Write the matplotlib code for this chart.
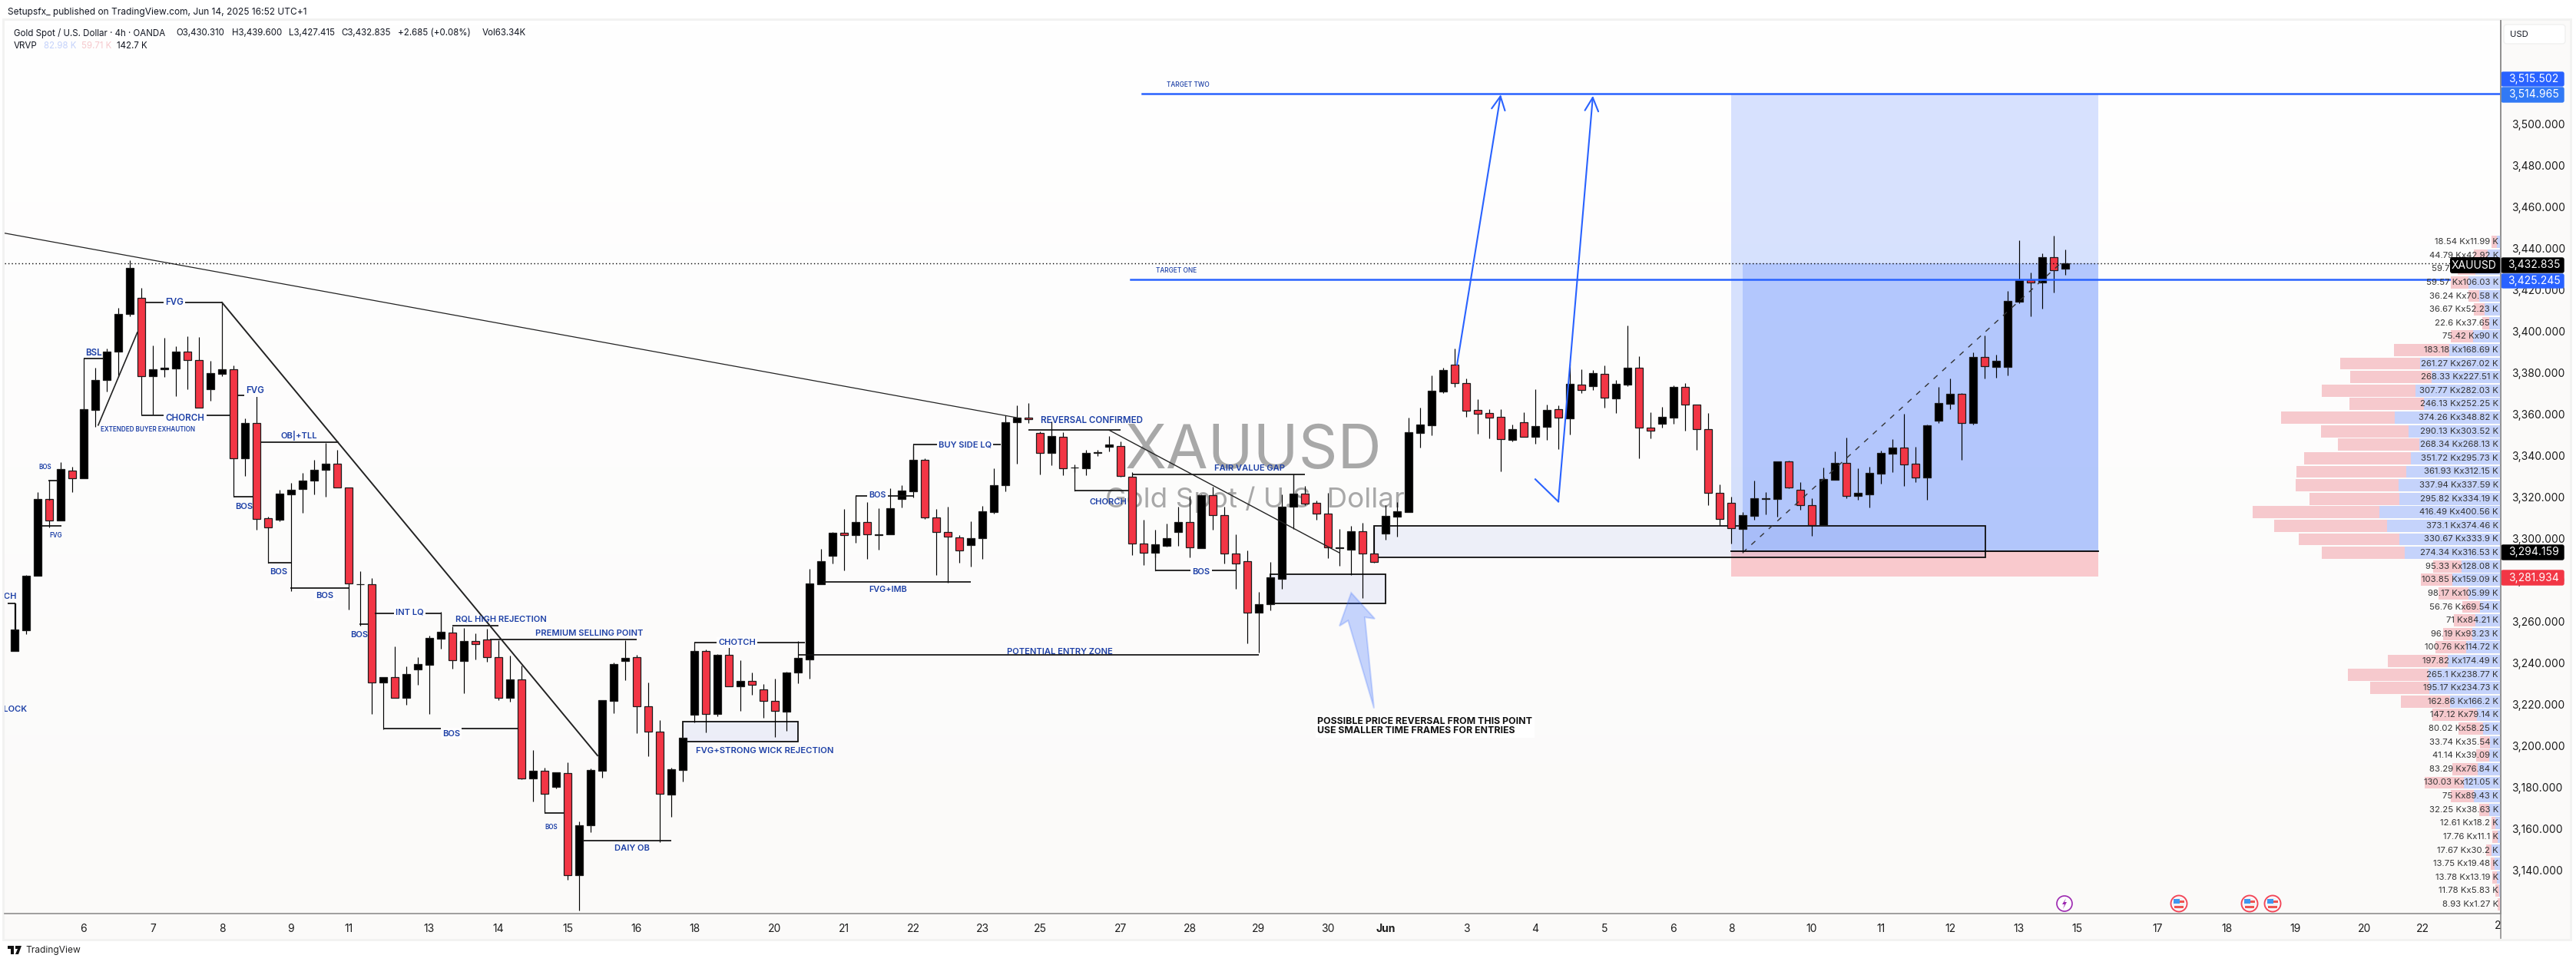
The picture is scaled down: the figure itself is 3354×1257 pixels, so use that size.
import matplotlib
matplotlib.use("Agg")
import matplotlib.pyplot as plt
import numpy as np
from matplotlib.patches import Rectangle, Polygon, Circle, FancyBboxPatch

plt.rcParams['font.family'] = ['Inter', 'DejaVu Sans']

W, H = 3355, 1257
BLUE = '#2962ff'
RED = '#f23645'
INK = '#1c3fa6'

opens = [
 3245.8,3256.0,3282.1,3319.3,3308.9,3332.9,3329.1,3362.4,3376.5,3390.3,
 3408.4,3416.2,3378.7,3381.7,3382.4,3390.3,3386.2,3372.2,3379.6,3381.9,
 3338.8,3355.8,3310.0,3309.3,3321.4,3324.1,3328.0,3333.2,3336.3,3324.8,
 3278.0,3278.3,3230.9,3233.3,3223.4,3237.2,3239.2,3251.7,3254.9,3241.1,
 3250.6,3251.3,3243.1,3223.4,3232.2,3184.4,3188.0,3180.5,3187.1,3137.9,
 3161.9,3188.2,3222.0,3241.1,3242.9,3219.1,3206.9,3176.8,3188.7,3215.3,
 3245.8,3215.7,3244.0,3228.9,3231.4,3227.3,3222.0,3216.8,3235.4,3242.0,
 3278.1,3292.0,3302.9,3301.7,3308.0,3302.0,3302.4,3319.1,3322.9,3338.0,
 3310.5,3303.4,3300.9,3297.0,3300.2,3312.9,3326.1,3356.4,3358.5,3351.0,
 3341.6,3349.4,3334.3,3333.9,3341.4,3344.6,3344.7,3330.1,3297.9,3293.2,
 3296.8,3303.4,3308.0,3295.7,3321.0,3311.6,3292.9,3289.1,3264.3,3268.7,
 3280.9,3315.7,3321.7,3317.3,3312.1,3295.5,3294.9,3303.6,3292.8,3302.7,
 3310.9,3313.1,3351.2,3354.9,3371.2,3383.9,3375.1,3362.1,3360.6,3358.8,
 3347.8,3356.2,3349.4,3354.2,3362.5,3358.3,3374.3,3373.8,3379.5,3367.9,
 3374.6,3382.5,3353.6,3355.7,3358.6,3373.2,3364.7,3352.8,3322.1,3317.3,
 3304.9,3311.2,3319.3,3319.4,3337.3,3323.6,3316.2,3306.8,3328.5,3336.5,
 3320.7,3321.5,3331.5,3341.1,3344.0,3336.2,3329.7,3357.2,3365.2,3369.9,
 3355.9,3387.7,3383.0,3383.0,3414.6,3424.7,3423.8,3435.8,3430.31]
closes = [
 3256.3,3282.1,3319.3,3308.9,3333.6,3329.1,3362.6,3376.7,3390.5,3408.4,
 3430.7,3378.7,3381.9,3382.6,3390.3,3386.2,3363.5,3380.1,3381.9,3338.8,
 3355.8,3309.8,3305.5,3321.8,3323.8,3328.2,3333.4,3336.3,3324.8,3278.7,
 3278.3,3230.9,3233.3,3223.4,3234.7,3239.7,3252.2,3255.1,3241.3,3250.6,
 3249.2,3243.1,3223.4,3232.2,3184.4,3188.0,3176.9,3187.3,3137.9,3161.9,
 3188.5,3222.2,3239.7,3242.6,3219.1,3206.9,3176.9,3188.9,3204.2,3245.8,
 3215.4,3244.1,3228.8,3231.4,3229.8,3222.0,3216.9,3235.5,3242.7,3278.5,
 3289.1,3302.9,3301.7,3308.0,3302.1,3302.4,3314.9,3323.2,3338.0,3310.5,
 3303.4,3301.1,3294.4,3300.2,3313.2,3325.8,3356.4,3358.5,3357.6,3341.6,
 3349.6,3334.2,3334.6,3341.6,3341.7,3345.7,3330.2,3297.9,3293.2,3297.3,
 3300.2,3308.1,3295.8,3321.2,3311.6,3292.9,3288.1,3264.3,3268.7,3281.3,
 3315.7,3321.7,3316.9,3312.1,3295.8,3295.8,3303.6,3292.8,3289.0,3311.0,
 3313.3,3351.5,3355.2,3371.5,3381.5,3375.1,3362.0,3360.5,3358.6,3348.0,
 3353.0,3349.4,3354.4,3362.2,3358.4,3374.8,3371.7,3380.0,3368.0,3374.8,
 3382.6,3353.6,3352.1,3358.9,3373.3,3364.7,3352.8,3322.1,3309.5,3305.1,
 3311.4,3319.5,3319.5,3337.3,3324.9,3316.2,3306.8,3328.8,3336.5,3320.9,
 3322.2,3331.8,3341.5,3344.1,3336.0,3329.7,3354.8,3365.6,3370.0,3356.0,
 3387.8,3383.2,3385.9,3414.8,3424.8,3423.6,3435.9,3429.5,3432.835]
highs = [
 3269.2,3282.6,3322.5,3319.3,3337.0,3334.7,3362.6,3382.6,3391.7,3411.4,
 3434.5,3421.1,3393.5,3396.9,3393.0,3397.8,3397.3,3386.0,3381.9,3383.7,
 3358.1,3369.0,3310.7,3323.6,3327.0,3332.0,3338.1,3346.3,3342.9,3324.8,
 3284.4,3281.0,3233.3,3248.1,3238.6,3243.1,3253.3,3264.7,3257.8,3257.2,
 3254.4,3256.7,3251.0,3243.6,3239.0,3198.2,3189.8,3187.3,3192.1,3163.7,
 3189.4,3222.2,3240.4,3251.0,3244.0,3230.7,3212.7,3189.7,3204.2,3246.8,
 3246.8,3244.6,3248.2,3241.4,3235.5,3229.9,3232.6,3235.8,3250.9,3285.6,
 3295.1,3303.4,3314.6,3320.7,3317.8,3314.9,3324.4,3325.8,3344.9,3339.0,
 3314.4,3315.6,3301.7,3308.6,3315.9,3333.9,3359.5,3364.3,3365.4,3351.9,
 3356.6,3351.5,3336.1,3343.0,3343.0,3349.6,3347.1,3332.4,3309.4,3304.6,
 3307.5,3315.6,3320.7,3321.4,3325.1,3315.6,3302.4,3294.6,3274.6,3288.9,
 3321.4,3331.0,3325.4,3318.5,3322.3,3304.8,3306.3,3307.8,3305.9,3316.2,
 3317.8,3358.5,3363.3,3378.9,3382.6,3391.8,3377.3,3367.4,3362.5,3362.5,
 3355.3,3361.0,3372.3,3364.9,3364.3,3384.4,3381.9,3381.4,3383.7,3376.7,
 3403.0,3388.2,3361.0,3363.7,3373.9,3375.2,3364.7,3360.9,3326.3,3320.5,
 3313.1,3328.2,3322.7,3337.3,3337.8,3327.3,3319.5,3334.3,3342.1,3348.9,
 3334.1,3334.7,3342.5,3348.0,3360.3,3344.6,3355.1,3373.3,3377.5,3370.5,
 3390.0,3398.3,3389.0,3419.6,3444.1,3428.5,3437.8,3446.2,3439.6]
lows = [
 3245.8,3254.0,3282.1,3305.5,3308.9,3322.5,3329.1,3354.2,3371.0,3378.1,
 3407.3,3359.9,3359.9,3378.1,3369.0,3372.4,3363.3,3366.5,3378.5,3320.2,
 3330.2,3304.3,3305.5,3308.4,3274.9,3312.5,3321.4,3320.2,3324.8,3265.8,
 3258.3,3215.4,3208.0,3223.4,3220.0,3229.5,3215.4,3247.2,3237.4,3225.4,
 3242.0,3240.8,3222.2,3221.6,3184.1,3173.3,3167.8,3179.6,3135.4,3120.6,
 3158.7,3185.0,3215.9,3231.8,3206.4,3195.2,3153.8,3165.8,3183.1,3211.6,
 3206.5,3214.6,3228.8,3217.1,3224.8,3213.8,3204.3,3207.5,3230.2,3232.6,
 3278.0,3288.2,3284.8,3298.3,3290.4,3294.8,3302.4,3315.1,3320.0,3309.7,
 3282.6,3279.0,3288.5,3286.7,3290.4,3312.2,3322.9,3336.2,3355.8,3331.1,
 3335.4,3330.7,3332.4,3330.7,3340.0,3342.4,3329.9,3292.3,3287.5,3291.0,
 3296.3,3296.5,3291.1,3295.5,3304.6,3288.2,3275.9,3249.7,3245.3,3265.5,
 3275.8,3304.9,3316.3,3309.4,3290.9,3287.2,3282.5,3271.4,3288.6,3299.7,
 3301.0,3313.1,3344.2,3350.1,3370.4,3373.5,3359.0,3350.7,3348.5,3332.6,
 3347.0,3349.4,3346.1,3347.9,3343.3,3350.4,3370.5,3371.7,3363.5,3360.9,
 3373.8,3339.0,3348.6,3353.8,3355.7,3352.3,3343.1,3316.2,3306.7,3297.9,
 3293.3,3309.4,3311.9,3310.6,3324.6,3314.1,3301.6,3306.5,3328.5,3319.8,
 3319.0,3315.3,3326.7,3332.2,3325.7,3327.4,3318.9,3355.9,3362.5,3338.2,
 3355.1,3377.5,3377.9,3378.9,3413.7,3407.5,3411.2,3419.0,3427.415]

date_ticks = [6,12,18,24,29,36,42,48,54,59,66,72,78,84,89,96,102,108,114,119,126,132,138,144,149,156,162,168,174,179,186,192,198,204,209]
date_labels = ['6','7','8','9','11','13','14','15','16','18','20','21','22','23','25','27','28','29','30','Jun','3','4','5','6','8','10','11','12','13','15','17','18','19','20','22']
price_ticks = list(range(3140, 3501, 20))

# Volume profile: sell / buy volume in K per row, top row first
vp_sell = [18.54,44.79,59.71,59.57,36.24,36.67,22.6,75.42,183.18,261.27,268.33,307.77,246.13,374.26,290.13,268.34,351.72,361.93,337.94,295.82,416.49,373.1,330.67,274.34,95.33,103.85,98.17,56.76,71,96.19,100.76,197.82,265.1,195.17,162.86,147.12,80.02,33.74,41.14,83.29,130.03,75,32.25,12.61,17.76,17.67,13.75,13.78,11.78,8.93]
vp_buy = [11.99,42.92,82.98,106.03,70.58,52.23,37.65,90,168.69,267.02,227.51,282.03,252.25,348.82,303.52,268.13,295.73,312.15,337.59,334.19,400.56,374.46,333.9,316.53,128.08,159.09,105.99,69.54,84.21,93.23,114.72,174.49,238.77,234.73,166.2,79.14,58.25,35.54,39.09,76.84,121.05,89.43,38.63,18.2,11.1,30.2,19.48,13.19,5.83,1.27]
vp_top_price = 3443.3
vp_step = 6.522

target_two = 3514.965
target_one = 3425.245
last_price = 3432.835
entry_price = 3294.159
stop_price = 3281.934

# Drawn labels: text, bar position, price, size, backed
labels_big = [
 ('BSL',6.86,3389.6,8.3,0),('FVG',13.86,3413.9,8.3,1),('CHORCH',14.8,3358.3,8.3,1),('FVG',20.87,3371.5,8.3,1),
 ('OB|+TLL',24.66,3349.9,8,0),('BOS',19.9,3315.7,8,0),('BOS',22.9,3284.2,8,0),('BOS',26.9,3272.6,8,1),
 ('BOS',29.9,3253.8,8,0),('INT LQ',34.3,3264.6,8,1),('RQL HIGH REJECTION',42.2,3261.3,8,0),
 ('PREMIUM SELLING POINT',49.9,3254.4,8,0),('BOS',37.9,3206.1,8,1),('DAIY OB',53.6,3150.8,8,0),
 ('CHOTCH',62.7,3250.0,8,1),('FVG+STRONG WICK REJECTION',65.1,3197.9,8.1,0),('FVG+IMB',75.8,3275.6,7.8,0),
 ('BOS',74.9,3321.2,7.8,1),('BUY SIDE LQ',82.5,3345.5,8,1),('REVERSAL CONFIRMED',93.5,3357.0,8.3,0),
 ('FAIR VALUE GAP',107.2,3334.2,8,0),('CHORCH',94.9,3317.6,8,0),('BOS',103,3284.2,8,1),
 ('POTENTIAL ENTRY ZONE',90.7,3245.4,8,0)]
labels_small = [
 ('BOS',2.64,3334.7),('FVG',3.6,3301.8),('EXTENDED BUYER EXHAUTION',11.6,3352.6),('BOS',46.6,3160.8)]

# Horizontal drawing segments: from bar, to bar, price
hlines = [
 (-0.6,0.04,3269),(2.35,4.04,3306.2),(2.96,3.68,3328.2),(6.03,7.65,3386.9),(11.37,18,3414.1),(11,18.7,3359.7),
 (19,20.7,3320.4),(19.35,20,3369.4),(21.37,28.16,3346.5),(22,24,3288.7),(23.93,29,3276.4),(29.96,30.7,3259),
 (31.3,37,3264.2),(38,42,3258.3),(41.3,54,3251.3),(32,43.7,3208.6),(46,47.65,3167.8),(49.4,57,3154.6),
 (59,68.6,3249.9),(68,108,3244),(70.2,83,3279.4),(73,78,3320.6),(78,85.6,3345.5),(88,96,3352.5),
 (92,96.7,3323.2),(97,112,3331),(99,106,3284.7)]
# Vertical drawing segments: bar, from price, to price
vlines = [
 (0.04,3269,3256),(3.03,3328.2,3319),(6.03,3386.9,3362),(18,3414.1,3382),(22,3305.5,3288.7),(37,3264.2,3255),
 (59,3249.9,3245),(73,3320.6,3308),(78,3345.5,3338),(92,3334,3323.2),(99,3293,3284.7),(111.0,3331,3321.7)]
# Free diagonals: two bars and two prices
trend_main = (-0.85, 87, 3447.5, 3358.5)
fall_line = (18, 50.6, 3414.1, 3195.5)
wedge_line = (7.26, 10.65, 3354.9, 3399.6)
fall_line2 = (95, 115, 3352.5, 3293.3)
dashed_trend = (150, 177.6, 3293.4, 3433)

# Zones: left bar, right bar, top, bottom
zones = [(118, 171.1, 3306.2, 3291.0), (109, 119, 3283.0, 3268.8), (58, 68, 3211.8, 3202.4)]
ptr_bars = [116.02, 118.07, 117.2, 118.0, 115.75, 115.0]
ptr_prices = [3274.0, 3261.5, 3262.2, 3218.3, 3260.6, 3258.0]

fig = plt.figure(figsize=(W/100, H/100), dpi=100, facecolor='white')

def fx(x): return x/W
def fy(y): return 1 - y/H

# chrome underneath
bg = fig.add_axes([0, 0, 1, 1], zorder=-1)
bg.set_xlim(0, W); bg.set_ylim(H, 0); bg.axis('off')
bg.add_patch(Rectangle((4, 25), 3343, 1199, fc='#fbfaf9', ec='#f2f2f1', lw=2))

ax = fig.add_axes([fx(6), fy(1190), 3250/W, (1190-27)/H], zorder=1)
xmin, xmax = (6-19)/15, (3256-19)/15
ymax = 3300 + (702-27)/2.7
ymin = 3300 - (1190-702)/2.7
ax.imshow(np.linspace(0, 1, 256).reshape(-1, 1), aspect='auto',
          extent=[xmin, xmax, ymin, ymax], zorder=-5, origin='upper',
          cmap=matplotlib.colors.LinearSegmentedColormap.from_list('g', ['#ffffff', '#fbfaf9']))
ax.set_xlim(xmin, xmax); ax.set_ylim(ymin, ymax)
ax.yaxis.tick_right()
ax.set_yticks(price_ticks, [f'{p:,.3f}' for p in price_ticks], fontsize=10, color='#1c1c1c')
ax.set_xticks(date_ticks, date_labels, fontsize=10, color='#1c1c1c')
for lab in ax.get_xticklabels():
    if lab.get_text() == 'Jun':
        lab.set_fontweight('bold')
ax.tick_params(axis='both', length=0, pad=10)
ax.tick_params(axis='x', pad=9)
for s in ['top', 'left']:
    ax.spines[s].set_visible(False)
for s in ['right', 'bottom']:
    ax.spines[s].set_color('#8f8f8f'); ax.spines[s].set_linewidth(1.2)

# watermark
ax.text(1632, 589, 'XAUUSD', transform=bg.transData, fontsize=57, color='#a8a8a8', ha='center', va='center', zorder=0)
ax.text(1634, 651, 'Gold Spot / U.S. Dollar', transform=bg.transData, fontsize=26.5, color='#a8a8a8', ha='center', va='center', zorder=0)

# position tool
pos_l, pos_r, pos_split = 149, 180.9, 150
ax.fill_between([pos_l, pos_r], entry_price, target_two, color=BLUE, alpha=0.18, lw=0, zorder=1)
ax.fill_between([pos_split, pos_r], entry_price, last_price, color=BLUE, alpha=0.20, lw=0, zorder=1)
ax.fill_between([pos_l, pos_r], stop_price, entry_price, color=RED, alpha=0.25, lw=0, zorder=1)
ax.plot([pos_l, pos_r], [entry_price]*2, color='black', lw=1.3, zorder=4)

# zones
for l, r, t, b in zones:
    ax.add_patch(Rectangle((l, b), r-l, t-b, fc=(0.16, 0.30, 0.85, 0.07), ec='#101010', lw=1.3, zorder=2))

# volume profile (own horizontal scale, 0.395 px per K, running leftwards)
vx = ax.twiny()
vx.set_xlim(3250/0.395, 0)
vx.set_ylim(ymin, ymax)
vx.axis('off')
vx.patch.set_visible(False)
ys = [vp_top_price - k*vp_step for k in range(len(vp_sell))]
vx.barh(ys, vp_buy, height=vp_step*0.9, color='#c5d3fb', lw=0, zorder=2)
vx.barh(ys, vp_sell, left=vp_buy, height=vp_step*0.9, color='#f6c9cd', lw=0, zorder=2)
for y, s, b in zip(ys, vp_sell, vp_buy):
    vx.annotate(f'{s:g} Kx{b:g} K', (0, y), xytext=(-3, 0), textcoords='offset pixels',
                ha='right', va='center', fontsize=8.2, color='#333333', zorder=6)
ax.set_zorder(1)

# candles
x = np.arange(len(opens))
up = [c >= o for o, c in zip(opens, closes)]
ax.vlines(x, lows, highs, color='#000000', lw=0.85, zorder=3)
ax.bar(x, [abs(c-o) for o, c in zip(opens, closes)], bottom=[min(o, c) for o, c in zip(opens, closes)],
       width=0.70, color=['#000000' if u else RED for u in up], edgecolor='#1c1c1c', lw=0.9, zorder=3.2)

# drawings
for a, b, p in hlines:
    ax.plot([a, b], [p, p], color='#111111', lw=1.25, zorder=3.5, solid_capstyle='butt', clip_on=True)
for b, p0, p1 in vlines:
    ax.plot([b, b], [p0, p1], color='#111111', lw=0.9, zorder=3.5)
for ln, w in ((trend_main, 0.9), (fall_line, 1.4), (wedge_line, 1.2), (fall_line2, 1.0)):
    ax.plot(ln[:2], ln[2:], color='#222222', lw=w, zorder=3.5)
ax.plot(dashed_trend[:2], dashed_trend[2:], color='#333333', lw=1, ls=(0, (5, 6)), zorder=3.5)

# targets and price lines
ax.plot([97.9, xmax], [target_two]*2, color=BLUE, lw=1.8, zorder=4)
ax.plot([96.9, xmax], [target_one]*2, color=BLUE, lw=1.8, zorder=4)
ax.axhline(last_price, color='black', lw=1.0, ls=(0, (1, 2.2)), zorder=3.6)
ax.text(100, 3518.9, 'TARGET TWO', fontsize=6, color=INK, va='center', fontweight='medium')
ax.text(99.1, 3429.3, 'TARGET ONE', fontsize=6, color=INK, va='center', fontweight='medium')

# blue arrows
ax.plot([132, 134], [3328.8, 3318], color=BLUE, lw=1.5, zorder=4)
for a0, p0, a1, p1 in ((125.2, 3384, 129, 3514.4), (134, 3318, 137, 3513.8)):
    ax.annotate('', xy=(a1, p1), xytext=(a0, p0), zorder=4,
                arrowprops=dict(arrowstyle='->,head_length=0.9,head_width=0.45', color=BLUE, lw=1.5, shrinkA=0, shrinkB=0, mutation_scale=14))

# pointer
ax.add_patch(Polygon(list(zip(ptr_bars, ptr_prices)), closed=True, fc=(0.16, 0.38, 1, 0.26), ec=(0.16, 0.38, 1, 0.22), lw=1.5, zorder=4))
ax.text(113.1, 3209.6, 'POSSIBLE PRICE REVERSAL FROM THIS POINT\nUSE SMALLER TIME FRAMES FOR ENTRIES', fontsize=8.9,
        fontweight='bold', color='#111111', va='center', ha='left', linespacing=0.95, zorder=5,
        bbox=dict(fc='white', ec='none', pad=2))

# labels
for t, b, p, s, backed in labels_big:
    kw = dict(bbox=dict(fc='#fefdfd', ec='none', pad=1.5)) if backed else {}
    ax.text(b, p, t, fontsize=s, color=INK, ha='center', va='center', fontweight='semibold', zorder=5, **kw)
for t, b, p in labels_small:
    ax.text(b, p, t, fontsize=5.8, color=INK, ha='center', va='center', fontweight='semibold', zorder=5)
ax.text(0.18, 3272.4, 'CHOCH', fontsize=8, color=INK, ha='right', va='center', fontweight='semibold', zorder=5, clip_on=True)
ax.text(1.1, 3217.7, 'ORDER BLOCK', fontsize=8, color=INK, ha='right', va='center', fontweight='semibold', zorder=5, clip_on=True)

# overlay chrome
ov = fig.add_axes([0, 0, 1, 1], zorder=5)
ov.set_xlim(0, W); ov.set_ylim(H, 0); ov.axis('off')
ov.patch.set_visible(False)
ov.plot([3256, 3256], [27, 1222], color='#8f8f8f', lw=1.2)

def tag(y0, y1, txt, col):
    ov.add_patch(FancyBboxPatch((3257, y0+1), 81, y1-y0-2, boxstyle='round,pad=0,rounding_size=2', fc=col, ec=col, lw=1))
    ov.text(3299, (y0+y1)/2, txt, color='white', fontsize=10, ha='center', va='center')
tag(93, 113, '3,515.502', '#2962ff')
tag(113, 134, '3,514.965', '#3179f5')
tag(335, 356, '3,432.835', '#000000')
tag(356, 376, '3,425.245', '#2962ff')
tag(709, 730, '3,294.159', '#000000')
tag(742, 763, '3,281.934', '#f23645')
ov.add_patch(FancyBboxPatch((3190, 335), 66, 21, boxstyle='round,pad=0,rounding_size=3', fc='black', ec='black', lw=0))
ov.text(3221, 345.5, 'XAUUSD', color='white', fontsize=10, ha='center', va='center')

ov.add_patch(FancyBboxPatch((3260, 32), 80, 25, boxstyle='round,pad=0,rounding_size=4', fc='white', ec='#f0f0f0', lw=1))
ov.text(3268, 44.5, 'USD', fontsize=8.2, color='#131722', va='center')

ov.text(10, 15.5, 'Setupsfx_ published on TradingView.com, Jun 14, 2025 16:52 UTC+1', fontsize=8.6, color='#131722', va='center')
ov.text(18, 43, 'Gold Spot / U.S. Dollar · 4h · OANDA', fontsize=8.3, color='#131722', va='center')
for xp, t in ((229, 'O3,430.310'), (302, 'H3,439.600'), (376, 'L3,427.415'), (444, 'C3,432.835'), (518, '+2.685 (+0.08%)'), (628, 'Vol63.34K')):
    ov.text(xp, 43, t, fontsize=8.3, color='#131722', va='center')
for xp, t, c in ((18, 'VRVP', '#131722'), (57, '82.98 K', '#c5d3fb'), (106, '59.71 K', '#f6c9cd'), (152, '142.7 K', '#131722')):
    ov.text(xp, 60, t, fontsize=8.3, color=c, va='center')

# clipped last date
clip = Rectangle((3200, 1191), 56, 30, transform=ov.transData)
t = ov.text(3256, 1206, '23', fontsize=10, color='#1c1c1c', ha='center', va='center')
t.set_clip_on(True)
t.set_clip_path(clip)

# event icons
ov.add_patch(Circle((2688, 1177), 10, fc='white', ec='#9c27b0', lw=1.2))
ov.add_patch(Polygon([(2690, 1170), (2685, 1178), (2688, 1178), (2686, 1184), (2691, 1175), (2688, 1175)], fc='#9c27b0', ec='none'))
for cx in (2837, 2929, 2959):
    ov.add_patch(Circle((cx, 1177), 10.5, fc='white', ec='#f2485a', lw=1.4))
    ov.add_patch(Circle((cx, 1177), 8, fc='#f1f1f4', ec='none'))
    ov.add_patch(Rectangle((cx-7, 1171), 8, 6, fc='#3f97f0', ec='none'))
    ov.add_patch(Rectangle((cx+1, 1173), 6, 3, fc='#ef5350', ec='none'))
    ov.add_patch(Rectangle((cx-6, 1180), 12, 3, fc='#ef5350', ec='none'))

# TradingView mark
ov.add_patch(Polygon([(10, 1232), (18, 1232), (18, 1243), (14, 1243), (14, 1236), (10, 1236)], fc='#111111', ec='none'))
ov.add_patch(Polygon([(20, 1232), (28, 1232), (24, 1243), (20, 1243), (23, 1236), (20, 1236)], fc='#111111', ec='none'))
ov.text(33, 1238, 'TradingView', fontsize=8.6, color='#222222', va='center')

fig.savefig('out.png', dpi=100, facecolor='white')
